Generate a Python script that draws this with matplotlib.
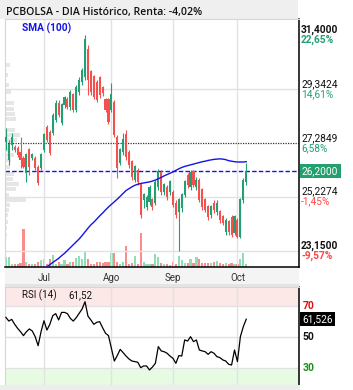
import matplotlib
matplotlib.use("Agg")
import matplotlib.pyplot as plt
import matplotlib.transforms as mtrans
from matplotlib.patches import Rectangle
import numpy as np
import pandas as pd

# ── Data ────────────────────────────────────────────────────────────────────
dates = pd.bdate_range("2025-06-12", "2025-10-06")

open_ = [27.31, 26.63, 27.20, 27.12, 27.08, 26.93, 26.70, 26.13, 27.01, 26.70,
         26.70, 26.32, 26.32, 27.01, 27.85, 27.66, 27.66, 28.15, 28.80, 28.04,
         28.73, 28.92, 28.65, 29.11, 28.54, 29.22, 29.60, 29.80, 30.83, 29.99,
         29.80, 29.57, 29.76, 29.38, 28.92, 28.92, 28.54, 28.84, 27.50, 26.51,
         26.93, 27.58, 26.93, 26.55, 25.86, 26.24, 25.67, 25.10, 24.83, 25.02,
         25.10, 24.98, 25.59, 26.13, 25.40, 25.56, 25.40, 25.37, 24.98, 24.64,
         24.79, 25.29, 26.05, 25.59, 26.17, 25.59, 25.86, 25.48, 25.10, 24.83,
         24.52, 24.98, 24.64, 24.64, 24.45, 23.87, 24.26, 24.41, 23.84, 24.33,
         23.68, 25.10, 25.79]
close = [27.47, 27.20, 27.50, 27.01, 26.82, 26.63, 26.36, 26.82, 26.36, 26.82,
         26.32, 25.75, 26.82, 27.58, 27.39, 26.89, 28.34, 28.80, 28.34, 28.73,
         29.00, 28.65, 29.19, 28.54, 29.41, 29.68, 30.06, 31.21, 29.68, 29.22,
         29.03, 28.92, 29.11, 29.19, 28.54, 28.08, 29.11, 27.58, 26.32, 27.01,
         27.39, 26.74, 26.43, 25.98, 26.36, 25.79, 24.52, 25.29, 25.21, 25.59,
         24.83, 25.75, 26.17, 25.40, 25.67, 25.21, 25.79, 24.91, 24.52, 25.10,
         25.29, 25.79, 25.67, 26.13, 25.67, 25.86, 25.10, 24.83, 24.72, 24.45,
         24.83, 24.72, 24.98, 24.33, 24.22, 24.33, 23.87, 23.76, 24.45, 23.68,
         25.10, 25.86, 26.20]
high = [27.85, 27.39, 27.66, 27.20, 27.16, 27.50, 26.78, 26.89, 27.08, 26.89,
        26.78, 26.43, 26.89, 27.66, 27.96, 27.77, 28.42, 28.92, 28.92, 28.80,
        29.07, 29.03, 29.30, 29.19, 29.49, 29.80, 30.14, 31.40, 31.02, 30.06,
        29.87, 29.68, 29.83, 29.45, 29.00, 29.00, 29.57, 28.92, 27.58, 27.08,
        27.66, 27.77, 27.01, 26.63, 26.43, 26.32, 25.75, 25.37, 25.29, 25.67,
        25.17, 25.86, 26.28, 26.24, 25.75, 25.67, 25.86, 25.48, 25.10, 25.17,
        25.37, 25.86, 26.13, 26.24, 26.24, 25.98, 25.94, 25.56, 25.17, 24.91,
        24.91, 25.10, 25.10, 24.72, 24.52, 24.41, 24.33, 24.52, 24.52, 24.41,
        25.17, 25.94, 26.51]
low = [27.01, 26.43, 27.01, 26.93, 26.74, 26.32, 26.32, 25.79, 26.05, 26.63,
       26.24, 25.67, 26.24, 26.93, 27.31, 26.82, 27.58, 28.08, 28.27, 27.96,
       28.61, 28.57, 28.54, 28.46, 28.46, 29.11, 29.49, 29.68, 29.11, 29.11,
       28.96, 28.84, 29.00, 29.07, 28.46, 28.00, 28.46, 27.50, 25.94, 26.43,
       26.82, 26.63, 26.32, 25.86, 25.79, 25.67, 24.41, 24.79, 24.72, 24.91,
       24.72, 24.91, 25.48, 25.29, 25.29, 25.10, 25.29, 24.83, 24.41, 23.15,
       24.64, 25.21, 25.56, 25.48, 25.59, 25.48, 25.02, 24.72, 24.64, 24.33,
       24.41, 24.60, 24.52, 24.22, 24.14, 23.76, 23.76, 23.68, 23.76, 23.65,
       23.65, 24.98, 25.67]
volume = [100, 100, 33, 33, 33, 40, 377, 50, 33, 27,
          27, 53, 67, 77, 27, 77, 117, 27, 53, 27,
          67, 27, 53, 53, 93, 110, 77, 160, 77, 27,
          33, 47, 47, 40, 53, 53, 143, 143, 53, 27,
          53, 210, 33, 43, 110, 27, 340, 53, 27, 33,
          33, 127, 103, 37, 30, 30, 20, 53, 30, 110,
          70, 43, 37, 77, 43, 103, 77, 37, 37, 37,
          37, 53, 63, 37, 30, 43, 30, 37, 30, 35,
          77, 137, 30]
sma100 = [np.nan] * 13 + [
    22.50, 22.55, 22.63, 22.71, 22.79, 22.87, 22.97, 23.06, 23.17, 23.28,
    23.39, 23.50, 23.61, 23.74, 23.88, 24.02, 24.15, 24.25, 24.37, 24.49,
    24.60, 24.72, 24.83, 24.93, 25.03, 25.13, 25.24, 25.35, 25.46, 25.53,
    25.60, 25.66, 25.70, 25.73, 25.75, 25.77, 25.79, 25.82, 25.86, 25.91,
    25.96, 26.02, 26.07, 26.12, 26.17, 26.23, 26.29, 26.34, 26.38, 26.41,
    26.44, 26.47, 26.50, 26.53, 26.56, 26.58, 26.61, 26.63, 26.65, 26.66,
    26.67, 26.66, 26.64, 26.60, 26.58, 26.56, 26.55, 26.55, 26.55, 26.56]
rsi14 = [62.7, 60.3, 61.4, 58.2, 55.6, 53.4, 50.9, 53.4, 55.2, 53.9,
         50.2, 44.4, 53.4, 60.5, 54.5, 58.2, 63.8, 65.1, 61.0, 65.9,
         65.9, 65.1, 62.0, 60.3, 62.5, 65.3, 68.1, 72.8, 63.5, 61.0,
         58.2, 59.5, 59.9, 56.0, 52.4, 50.9, 42.7, 34.5, 38.0, 42.0,
         39.9, 37.7, 35.8, 34.5, 34.1, 33.7, 30.2, 31.3, 31.3, 28.7,
         30.6, 33.0, 43.8, 41.0, 40.5, 39.5, 37.7, 36.2, 33.0, 38.0,
         37.7, 48.1, 47.4, 50.2, 47.0, 48.1, 41.6, 41.0, 40.5, 38.8,
         40.5, 39.5, 37.3, 36.7, 35.2, 34.5, 32.4, 31.9, 41.6, 34.1,
         50.2, 56.7, 61.5]

# volume-at-price profile on the left edge
prof_price = [30.25, 29.87, 29.49, 29.22, 28.80, 28.57, 28.38, 28.19, 27.77, 27.58,
              27.39, 27.01, 26.82, 26.63, 26.36, 26.09, 25.90, 25.71, 25.52, 25.29,
              25.10, 24.91, 24.72, 24.52, 24.26, 24.03, 23.76, 23.57]
prof_vol = [50, 30, 40, 60, 90, 90, 100, 110, 100, 150,
            120, 50, 90, 60, 50, 90, 80, 140, 110, 40,
            210, 50, 40, 30, 30, 20, 15, 10]

# right-hand price scale
levels = [31.40, 29.3424, 27.2849, 25.2274, 23.15]
level_pct = ["22,65%", "14,61%", "6,58%", "-1,45%", "-9,57%"]
last_price = 26.20
month_labels = ["Jul", "Ago", "Sep", "Oct"]
title = "PCBOLSA - DIA Histórico, Renta: -4,02%"

UP, DOWN = "#22a073", "#f4504d"
UP_V, DOWN_V = "#8fdfb6", "#fb8c8c"
BLUE = "#1414e6"
GRID = "#e2e2e2"
FONT = ["Roboto", "DejaVu Sans"]

W, H = 353, 390


def fx(px):
    return px / W


def fy(py):
    return 1 - py / H


def main():
    n = len(close)
    x = np.arange(n)
    o, c = np.array(open_), np.array(close)
    up = c >= o
    month_pos = [i for i in range(1, n) if dates[i].month != dates[i - 1].month]
    xlim = (-0.3, 100)

    fig = plt.figure(figsize=(W / 100, H / 100), dpi=100)
    fig.patch.set_facecolor("white")

    # background strips
    fig.patches.append(Rectangle((0, fy(19)), fx(298), fy(0) - fy(19), transform=fig.transFigure,
                                 fc="#efefef", ec="none", zorder=0))
    fig.patches.append(Rectangle((fx(5), fy(287)), fx(299) - fx(5), fy(267) - fy(287),
                                 transform=fig.transFigure, fc="#f4f4f4", ec="none", zorder=0))
    fig.patches.append(Rectangle((fx(5), fy(287)), fx(299) - fx(5), fy(284) - fy(287),
                                 transform=fig.transFigure, fc="#e4e4e4", ec="none", zorder=0))
    fig.patches.append(Rectangle((0, 0), fx(300), fy(385), transform=fig.transFigure,
                                 fc="#ededed", ec="none", zorder=0))

    # ── Main price panel ───────────────────────────────────────────────────
    ax = fig.add_axes([fx(5), fy(267), fx(299) - fx(5), fy(19) - fy(267)])
    axv = ax.twinx()
    axp = ax.twiny()
    ax.set_zorder(3)
    axp.set_zorder(2)
    axv.set_zorder(1)
    ax.patch.set_visible(False)
    axp.patch.set_visible(False)
    axv.patch.set_facecolor("white")

    ax.set_xlim(*xlim)
    ax.set_ylim(22.539, 32.011)

    # volume
    axv.bar(x, volume, width=0.75, color=np.where(up, UP_V, DOWN_V), linewidth=0)
    axv.set_ylim(0, max(volume) * 6.6)
    axv.set_xlim(*xlim)

    # volume profile
    axp.barh(prof_price, prof_vol, height=0.17, left=0, color="#e6e6e6", linewidth=0)
    axp.set_xlim(0, max(prof_vol) * 14)

    for a in (axv, axp):
        a.tick_params(left=False, right=False, top=False, bottom=False,
                      labelleft=False, labelright=False, labeltop=False, labelbottom=False)
        for s in a.spines.values():
            s.set_visible(False)

    # grid
    for m in month_pos:
        ax.axvline(m, color=GRID, lw=1, zorder=0)
    for lv in (levels[1], levels[3], levels[4]):
        ax.axhline(lv, color=GRID, lw=1, zorder=0)
    ax.axhline(levels[2], color="#333333", lw=0.9, ls=(0, (1, 1)), zorder=1)
    ax.axhline(last_price, color=BLUE, lw=1.0, ls=(0, (3.2, 1.6)), zorder=1)

    # candles
    ax.vlines(x, low, high, colors=np.where(up, UP, DOWN), lw=0.8, zorder=3)
    ax.bar(x, np.abs(c - o) + 0.02, bottom=np.minimum(o, c), width=0.72,
           color=np.where(up, UP, DOWN), linewidth=0, zorder=4)

    ax.plot(x, sma100, color=BLUE, lw=1.0, zorder=5)

    ax.set_xticks(month_pos)
    ax.set_xticklabels(month_labels, family=FONT, fontsize=7, color="#333333")
    ax.tick_params(axis="x", length=0, pad=4.3)
    ax.tick_params(axis="y", left=False, right=False, labelleft=False, labelright=False)
    for side in ("left", "top"):
        ax.spines[side].set_color("#d6d6d6")
        ax.spines[side].set_linewidth(0.8)
    for side in ("right", "bottom"):
        ax.spines[side].set_color("black")
        ax.spines[side].set_linewidth(1.1)

    tr = mtrans.blended_transform_factory(ax.transAxes, ax.transData)
    for k, (lv, pct) in enumerate(zip(levels, level_pct)):
        bold = "bold" if k in (0, len(levels) - 1) else "normal"
        pcol = UP if not pct.startswith("-") else "#ff4545"
        ax.annotate(f"{lv:.4f}".replace(".", ","), xy=(1, lv), xycoords=tr,
                    xytext=(2, 5), textcoords="offset pixels", ha="left", va="center",
                    fontsize=7.3, family=FONT, weight=bold, color="#111111",
                    annotation_clip=False)
        ax.annotate(pct, xy=(1, lv), xycoords=tr,
                    xytext=(2, -5), textcoords="offset pixels", ha="left", va="center",
                    fontsize=7.3, family=FONT, weight=bold, color=pcol,
                    annotation_clip=False)
    ax.annotate(f"{last_price:.4f}".replace(".", ","), xy=(1, last_price), xycoords=tr,
                xytext=(3, 0), textcoords="offset pixels", ha="left", va="center",
                fontsize=7.3, family=FONT, color="white", annotation_clip=False,
                bbox=dict(boxstyle="square,pad=0.22", fc="#23a06e", ec="none"))

    fig.text(fx(6), fy(12), title, ha="left", va="center", fontsize=7.6,
             family=["Open Sans", "DejaVu Sans"], weight="semibold", color="#111111")
    fig.text(fx(22), fy(28), "SMA (100)", ha="left", va="center", fontsize=7.3,
             family=FONT, weight="bold", color=BLUE, zorder=10)

    # ── RSI panel ──────────────────────────────────────────────────────────
    rs = fig.add_axes([fx(5), fy(385), fx(299) - fx(5), fy(287) - fy(385)])
    rs.set_xlim(*xlim)
    rs.set_ylim(19.0, 82.3)
    rs.axhspan(70, 82.3, color="#fde8e8", lw=0, zorder=0)
    rs.axhspan(19.0, 30, color="#e6fbe2", lw=0, zorder=0)
    for m in month_pos:
        rs.axvline(m, color=GRID, lw=1, zorder=1)
    for lv in (70, 50, 30):
        rs.axhline(lv, color=GRID, lw=1, zorder=1)
    rs.plot(x, rsi14, color="black", lw=0.9, zorder=3)
    rs.set_xticks([])
    rs.set_yticks([])
    for side in ("left", "top", "bottom"):
        rs.spines[side].set_color("#d6d6d6")
        rs.spines[side].set_linewidth(0.8)
    rs.spines["right"].set_color("black")
    rs.spines["right"].set_linewidth(1.1)

    trr = mtrans.blended_transform_factory(rs.transAxes, rs.transData)
    for lv, col in ((70, "#e01010"), (50, "#111111"), (30, "#179017")):
        rs.text(1.012, lv, str(lv), transform=trr, ha="left", va="center",
                fontsize=7.5, family=FONT, weight="bold", color=col, clip_on=False)
    rs.annotate(f"{61.526:.3f}".replace(".", ","), xy=(1, rsi14[-1]), xycoords=trr,
                xytext=(3, 0), textcoords="offset pixels", ha="left", va="center",
                fontsize=7.3, family=FONT, color="white", annotation_clip=False,
                bbox=dict(boxstyle="square,pad=0.22", fc="black", ec="none"))
    fig.text(fx(22), fy(295), "RSI (14)", ha="left", va="center", fontsize=7,
             family=FONT, color="#111111", zorder=10)
    fig.text(fx(68), fy(295), "61,52", ha="left", va="center", fontsize=7,
             family=FONT, color="#111111", zorder=10)

    fig.savefig("out.png", dpi=100)
    plt.close(fig)


if __name__ == "__main__":
    main()
